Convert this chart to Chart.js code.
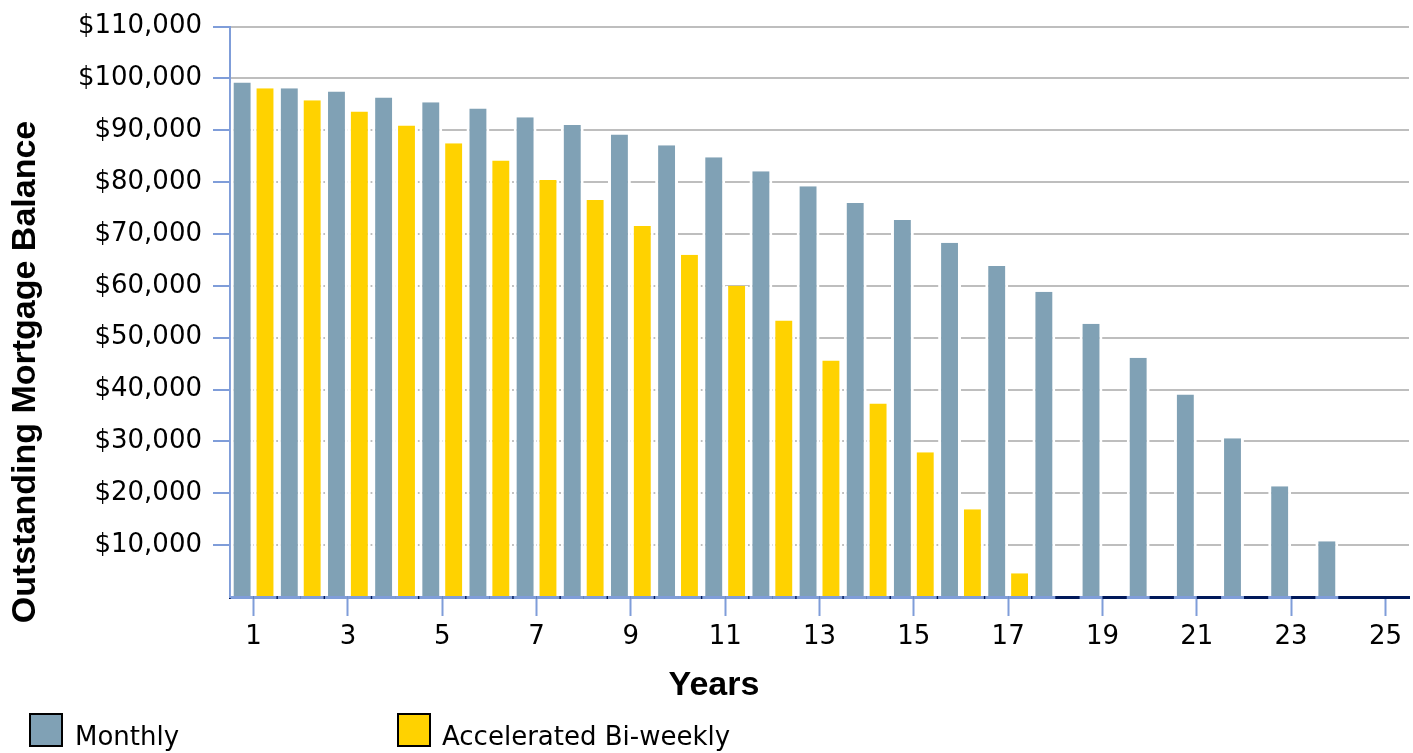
<!DOCTYPE html>
<html>
<head>
<meta charset="utf-8">
<script src="https://cdn.jsdelivr.net/npm/chart.js@4.4.1/dist/chart.umd.min.js"></script>
<style>
  html, body { margin: 0; padding: 0; background: #fff; }
  #wrap { position: relative; width: 1413px; height: 753px; overflow: hidden; }
  #chart { position: absolute; left: 0; top: 0; }
  .axis-title { position: absolute; font-family: "Liberation Sans", Arial, sans-serif; font-weight: bold; color: #000; white-space: nowrap; }
  #ytitle { width: 600px; height: 34px; line-height: 34px; font-size: 34px; text-align: center; left: -277px; top: 355px; transform: rotate(-90deg); }
  #xtitle { width: 300px; height: 34px; line-height: 34px; font-size: 34px; text-align: center; left: 564px; top: 666px; }
  .legend-item { position: absolute; top: 713px; height: 34px; }
  .legend-box { position: absolute; left: 0; top: 0; width: 30px; height: 30px; border: 2px solid #000; }
  .legend-text { position: absolute; top: 10px; height: 26px; line-height: 26px; font-family: "DejaVu Sans", sans-serif; font-size: 26px; color: #000; white-space: nowrap; }
</style>
</head>
<body>
<div id="wrap">
  <canvas id="chart" width="1413" height="753"></canvas>
  <div id="ytitle" class="axis-title">Outstanding Mortgage Balance</div>
  <div id="xtitle" class="axis-title">Years</div>
  <div class="legend-item" style="left:29px;">
    <div class="legend-box" style="background:#80A1B5;"></div>
    <div class="legend-text" style="left:46px;">Monthly</div>
  </div>
  <div class="legend-item" style="left:397px;">
    <div class="legend-box" style="background:#FFD200;"></div>
    <div class="legend-text" style="left:45px;">Accelerated Bi-weekly</div>
  </div>
</div>
<script>
// Year of the mortgage term
const years = ['1','2','3','4','5','6','7','8','9','10','11','12','13','14','15','16','17','18','19','20','21','22','23','24','25'];

// Remaining balance at each year, monthly payment schedule
const monthlyBalance = [99200, 98100, 97500, 96350, 95400, 94200, 92500, 91000, 89200, 87100,
                        84800, 82100, 79200, 76000, 72700, 68300, 63850, 58850, 52700, 46150,
                        39050, 30600, 21350, 10750, 0];

// Remaining balance at each year, accelerated bi-weekly schedule
const biweeklyBalance = [98100, 95800, 93650, 90950, 87500, 84200, 80400, 76550, 71550, 66000,
                         60000, 53300, 45600, 37300, 27900, 16900, 4600, 0, 0, 0,
                         0, 0, 0, 0, 0];

// Value axis ticks
const yTickValues = [10000, 20000, 30000, 40000, 50000, 60000, 70000, 80000, 90000, 100000, 110000];

const AXIS_BLUE = '#7F9DD9';
const AXIS_NAVY = '#00185A';
const GRID_GREY = '#BEBEBE';

// Light-blue strip along the baseline under every drawn bar
const baseStrip = {
  id: 'baseStrip',
  afterDatasetsDraw(chart) {
    const ctx = chart.ctx;
    const yBase = chart.scales.y.getPixelForValue(0);
    ctx.save();
    ctx.fillStyle = AXIS_BLUE;
    chart.data.datasets.forEach((ds, di) => {
      const meta = chart.getDatasetMeta(di);
      meta.data.forEach((el, i) => {
        if (ds.data[i] > 0) {
          ctx.fillRect(el.x - el.width / 2, yBase - 1, el.width, 3);
        }
      });
    });
    ctx.restore();
  }
};

const fmt = v => '$' + Number(v).toLocaleString('en-US');

new Chart(document.getElementById('chart'), {
  type: 'bar',
  data: {
    labels: years,
    datasets: [
      {
        label: 'Monthly',
        data: monthlyBalance,
        backgroundColor: '#80A1B5',
        borderColor: '#FFFFFF',
        borderWidth: { left: 3, right: 3, top: 0, bottom: 0 },
        borderSkipped: false,
        categoryPercentage: 0.97,
        barPercentage: 1.0
      },
      {
        label: 'Accelerated Bi-weekly',
        data: biweeklyBalance,
        backgroundColor: '#FFD200',
        borderColor: '#FFFFFF',
        borderWidth: { left: 3, right: 3, top: 0, bottom: 0 },
        borderSkipped: false,
        categoryPercentage: 0.97,
        barPercentage: 1.0
      }
    ]
  },
  options: {
    responsive: false,
    animation: false,
    devicePixelRatio: 1,
    layout: { padding: { left: 0, right: 4, top: 25, bottom: 0 } },
    plugins: {
      legend: { display: false },
      title: { display: false },
      tooltip: { enabled: false }
    },
    scales: {
      x: {
        offset: true,
        grid: {
          offset: false,
          drawOnChartArea: false,
          drawTicks: true,
          tickLength: 19,
          tickWidth: 2,
          tickColor: ctx => (ctx.index % 2 === 0 ? AXIS_BLUE : 'rgba(0,0,0,0)')
        },
        border: { display: true, color: AXIS_NAVY, width: 3 },
        ticks: {
          autoSkip: false,
          maxRotation: 0,
          padding: 6,
          color: '#000',
          font: { family: 'DejaVu Sans', size: 26 },
          callback: function (value, index) {
            return index % 2 === 0 ? this.getLabelForValue(value) : '';
          }
        },
        afterFit: scale => { scale.height = 156; }
      },
      y: {
        min: 0,
        max: 110000,
        afterBuildTicks: scale => {
          scale.ticks = [{ value: 0 }].concat(yTickValues.map(v => ({ value: v })));
        },
        grid: {
          color: GRID_GREY,
          lineWidth: 2,
          drawTicks: true,
          tickLength: 17,
          tickWidth: 2,
          tickColor: ctx => (ctx.tick && ctx.tick.value === 0 ? 'rgba(0,0,0,0)' : AXIS_BLUE)
        },
        border: { display: true, color: AXIS_BLUE, width: 2 },
        ticks: {
          padding: 11,
          color: '#000',
          font: { family: 'DejaVu Sans', size: 26 },
          callback: v => (v === 0 ? '' : fmt(v))
        },
        afterFit: scale => { scale.width = 230; }
      }
    }
  },
  plugins: [baseStrip]
});
</script>
</body>
</html>
